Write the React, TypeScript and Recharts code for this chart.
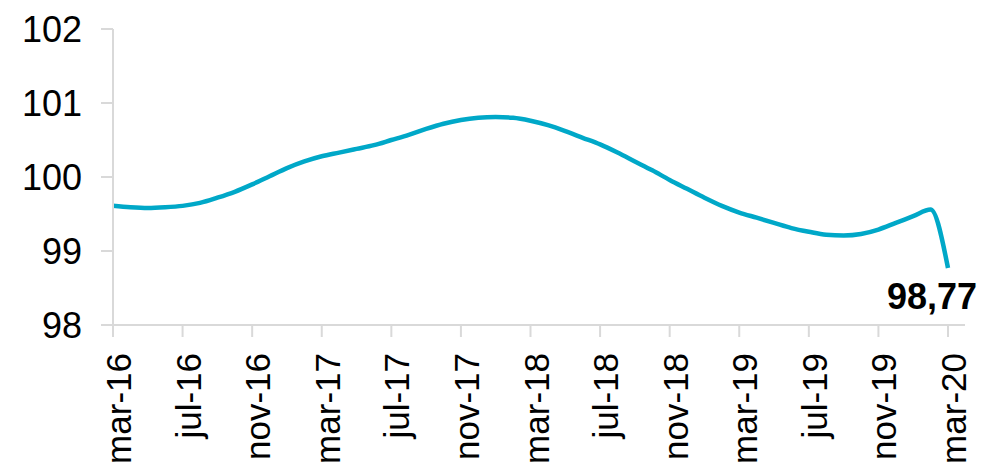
import { LineChart, Line, XAxis, YAxis, LabelList } from "recharts";

// monthly index, mar-16 .. mar-20
const months = [
  "mar-16", "apr-16", "may-16", "jun-16", "jul-16", "aug-16", "sep-16", "oct-16", "nov-16", "dec-16", "jan-17", "feb-17",
  "mar-17", "apr-17", "may-17", "jun-17", "jul-17", "aug-17", "sep-17", "oct-17", "nov-17", "dec-17", "jan-18", "feb-18",
  "mar-18", "apr-18", "may-18", "jun-18", "jul-18", "aug-18", "sep-18", "oct-18", "nov-18", "dec-18", "jan-19", "feb-19",
  "mar-19", "apr-19", "may-19", "jun-19", "jul-19", "aug-19", "sep-19", "oct-19", "nov-19", "dec-19", "jan-20", "feb-20",
  "mar-20",
];

const values = [
  99.61, 99.59, 99.58, 99.59, 99.61, 99.65, 99.72, 99.8, 99.9, 100.01, 100.12, 100.21,
  100.28, 100.33, 100.38, 100.43, 100.5, 100.57, 100.65, 100.72, 100.77, 100.8, 100.81, 100.8,
  100.76, 100.7, 100.62, 100.53, 100.44, 100.33, 100.21, 100.09, 99.96, 99.84, 99.72, 99.61,
  99.52, 99.45, 99.38, 99.31, 99.26, 99.22, 99.21, 99.23, 99.29, 99.38, 99.47, 99.56,
  98.77,
];

const yTicks = [98, 99, 100, 101, 102];

const data = months.map((month, i) => ({ month, value: values[i] }));

const FONT = "'Liberation Sans', Arial, sans-serif";
const AXIS_GREY = "#D9D9D9";
const LINE_BLUE = "#00A8C8";

const MonthTick = (props: any) => {
  const { x, y, payload } = props;
  return (
    <text
      x={x + 18}
      y={y + 14}
      transform={`rotate(-90, ${x + 18}, ${y + 14})`}
      textAnchor="end"
      fontFamily={FONT}
      fontSize={35}
      fill="#000"
    >
      {payload.value}
    </text>
  );
};

const LastValueLabel = (props: any) => {
  const { x, y, index, value } = props;
  if (index !== values.length - 1) return null;
  return (
    <text
      x={x + 29}
      y={y + 41}
      textAnchor="end"
      fontFamily={FONT}
      fontSize={36}
      fontWeight="bold"
      fill="#000"
    >
      {String(value).replace(".", ",")}
    </text>
  );
};

export default function App() {
  return (
    <div style={{ width: 979, height: 458, background: "#fff" }}>
      <LineChart width={979} height={458} data={data} margin={{ top: 21, right: 22, bottom: 0, left: 0 }}>
        <XAxis
          dataKey="month"
          interval={3}
          height={141}
          padding={{ left: 0, right: 17 }}
          axisLine={{ stroke: AXIS_GREY, strokeWidth: 2 }}
          tickLine={{ stroke: AXIS_GREY, strokeWidth: 2 }}
          tickSize={12}
          tick={<MonthTick />}
        />
        <YAxis
          width={105}
          domain={[98, 102]}
          ticks={yTicks}
          axisLine={{ stroke: AXIS_GREY, strokeWidth: 2 }}
          tickLine={{ stroke: AXIS_GREY, strokeWidth: 2 }}
          tickSize={12}
          tickMargin={19}
          tick={{ fontFamily: FONT, fontSize: 36, fill: "#000" }}
        />
        <Line
          type="monotone"
          dataKey="value"
          stroke={LINE_BLUE}
          strokeWidth={4.5}
          dot={false}
          isAnimationActive={false}
        >
          <LabelList dataKey="value" content={<LastValueLabel />} />
        </Line>
      </LineChart>
    </div>
  );
}
